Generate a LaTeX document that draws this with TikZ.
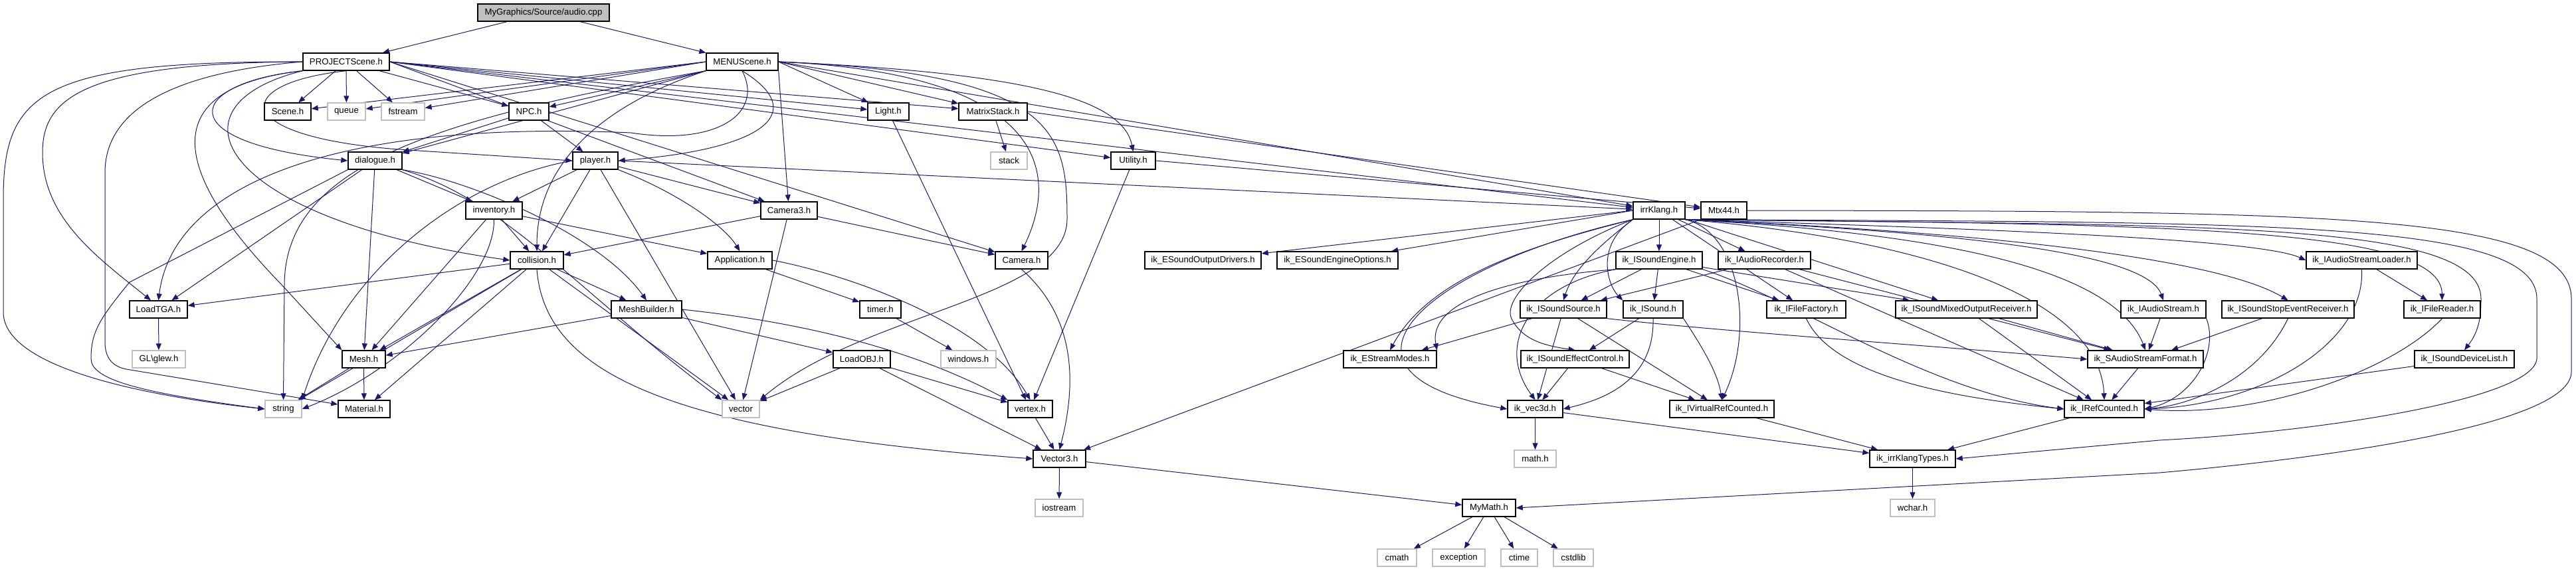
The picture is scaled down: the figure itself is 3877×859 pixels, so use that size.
\documentclass[tikz,border=0pt]{standalone}
\usepackage{fontspec}
\setmainfont{Liberation Sans}
\usetikzlibrary{arrows.meta}
\pgfdeclarelayer{bglayer}
\pgfsetlayers{bglayer,main}
\definecolor{edgec}{HTML}{191970}
\definecolor{grayb}{HTML}{BFBFBF}
\begin{document}
\begin{tikzpicture}[x=0.5pt,y=-0.5pt,
  hbox/.style={draw=black, line width=0.7pt, fill=white, rectangle, minimum height=13pt, inner sep=0pt, font=\fontsize{6.6}{7.5}\selectfont},
  gbox/.style={hbox, draw=grayb},
  rootbox/.style={hbox, fill=grayb},
  arr/.style={draw=edgec, line width=0.5pt, -{Triangle[length=5pt,width=4pt]}}]
\useasboundingbox (0,0) rectangle (3877,859);
% row 0-1
\node[rootbox, minimum width=99pt] (audio) at (818,19) {MyGraphics/Source/audio.cpp};
\node[hbox, minimum width=65pt] (P) at (521,93) {PROJECTScene.h};
\node[hbox, minimum width=54pt] (M) at (1117,93) {MENUScene.h};
% row 2
\node[hbox, minimum width=35pt] (scene) at (433,168) {Scene.h};
\node[gbox, minimum width=28.5pt] (queue) at (521.5,168) {queue};
\node[gbox, minimum width=32.5pt] (fstream) at (606.5,168) {fstream};
\node[hbox, minimum width=30pt] (npc) at (796,168) {NPC.h};
\node[hbox, minimum width=31pt] (light) at (1337,168) {Light.h};
\node[hbox, minimum width=51.5pt] (mstack) at (1494.5,168) {MatrixStack.h};
% row 3
\node[hbox, minimum width=40.5pt] (dialogue) at (564.5,242) {dialogue.h};
\node[hbox, minimum width=34pt] (player) at (896,242) {player.h};
\node[gbox, minimum width=27.5pt] (stack) at (1518.5,242) {stack};
\node[hbox, minimum width=33.5pt] (utility) at (1705.5,242) {Utility.h};
% row 4
\node[hbox, minimum width=42.5pt] (inventory) at (743.5,317) {inventory.h};
\node[hbox, minimum width=42.5pt] (camera3) at (1187.5,317) {Camera3.h};
\node[hbox, minimum width=39pt] (K) at (2497,317) {irrKlang.h};
\node[hbox, minimum width=34.5pt] (mtx) at (2594.5,317) {Mtx44.h};
% row 5
\node[hbox, minimum width=40pt] (collision) at (808,392) {collision.h};
\node[hbox, minimum width=48.5pt] (app) at (1113.5,392) {Application.h};
\node[hbox, minimum width=39.5pt] (camera) at (1537.5,392) {Camera.h};
\node[hbox, minimum width=87.5pt] (esod) at (1810.5,392) {ik\_ESoundOutputDrivers.h};
\node[hbox, minimum width=91pt] (eseo) at (2013,392) {ik\_ESoundEngineOptions.h};
\node[hbox, minimum width=65pt] (se) at (2497,392) {ik\_ISoundEngine.h};
\node[hbox, minimum width=69.5pt] (iar) at (2655.5,392) {ik\_IAudioRecorder.h};
\node[hbox, minimum width=83.5pt] (iasl) at (3554.5,392) {ik\_IAudioStreamLoader.h};
% row 6
\node[hbox, minimum width=43.5pt] (loadtga) at (238.5,466) {LoadTGA.h};
\node[hbox, minimum width=53pt] (mbuilder) at (973,466) {MeshBuilder.h};
\node[hbox, minimum width=31pt] (timer) at (1325,466) {timer.h};
\node[hbox, minimum width=65pt] (iss) at (2353,466) {ik\_ISoundSource.h};
\node[hbox, minimum width=45pt] (isound) at (2488,466) {ik\_ISound.h};
\node[hbox, minimum width=59.5pt] (iff) at (2718.5,466) {ik\_IFileFactory.h};
\node[hbox, minimum width=106.5pt] (ismor) at (2959.5,466) {ik\_ISoundMixedOutputReceiver.h};
\node[hbox, minimum width=64pt] (ias) at (3256,466) {ik\_IAudioStream.h};
\node[hbox, minimum width=99.5pt] (isser) at (3443.5,466) {ik\_ISoundStopEventReceiver.h};
\node[hbox, minimum width=57.5pt] (ifr) at (3675.5,466) {ik\_IFileReader.h};
% row 7
\node[gbox, minimum width=40pt] (glew) at (239,541) {GL\textbackslash glew.h};
\node[hbox, minimum width=32.5pt] (mesh) at (547.5,541) {Mesh.h};
\node[hbox, minimum width=43pt] (loadobj) at (1297,541) {LoadOBJ.h};
\node[gbox, minimum width=41.5pt] (windows) at (1457.5,541) {windows.h};
\node[hbox, minimum width=70pt] (esm) at (2092,541) {ik\_EStreamModes.h};
\node[hbox, minimum width=81.5pt] (isec) at (2370.5,541) {ik\_ISoundEffectControl.h};
\node[hbox, minimum width=87pt] (sasf) at (3229,541) {ik\_SAudioStreamFormat.h};
\node[hbox, minimum width=75pt] (isdl) at (3709,541) {ik\_ISoundDeviceList.h};
% row 8
\node[gbox, minimum width=27.5pt] (string) at (426.5,616) {string};
\node[hbox, minimum width=39pt] (material) at (548,616) {Material.h};
\node[gbox, minimum width=28pt] (vector) at (1115,616) {vector};
\node[hbox, minimum width=33.5pt] (vertex) at (1550.5,616) {vertex.h};
\node[hbox, minimum width=41.5pt] (vec3d) at (2310.5,616) {ik\_vec3d.h};
\node[hbox, minimum width=78.5pt] (ivrc) at (2591.5,616) {ik\_IVirtualRefCounted.h};
\node[hbox, minimum width=60pt] (irc) at (3167,616) {ik\_IRefCounted.h};
% row 9-11
\node[hbox, minimum width=39.5pt] (vector3) at (1594.5,691) {Vector3.h};
\node[gbox, minimum width=31.5pt] (math) at (2310.5,691) {math.h};
\node[hbox, minimum width=64.5pt] (ikt) at (2878.5,691) {ik\_irrKlangTypes.h};
\node[gbox, minimum width=36pt] (iostream) at (1594,765) {iostream};
\node[hbox, minimum width=40pt] (mymath) at (2241,765) {MyMath.h};
\node[gbox, minimum width=33.5pt] (wchar) at (2878.5,765) {wchar.h};
\node[gbox, minimum width=29.5pt] (cmath) at (2102.5,840) {cmath};
\node[gbox, minimum width=39.5pt] (exception) at (2195.5,840) {exception};
\node[gbox, minimum width=27.5pt] (ctime) at (2286.5,840) {ctime};
\node[gbox, minimum width=30pt] (cstdlib) at (2368,840) {cstdlib};

\begin{pgfonlayer}{bglayer}
\draw[arr] (audio) -- (P);
\draw[arr] (audio) -- (M);
% PROJECTScene
\draw[arr] (P) -- (scene);
\draw[arr] (P) -- (queue);
\draw[arr] (P) -- (fstream);
\draw[arr] (P) -- (npc);
\draw[arr] (P.east) -- (light);
\draw[arr] (P.east) -- (mstack);
\draw[arr] (P.east) -- (utility);
\draw[arr] (P.east) -- (K);
\draw[arr] (P.east) -- (camera3);
\draw[arr] (P.east) -- (camera);
\draw[arr] (P.south west) .. controls (280,125) and (250,215) .. (dialogue.west);
\draw[arr] (P.south) .. controls (350,125) and (340,205) .. (600,225) -- (player.west);
\draw[arr] (P.west) .. controls (120,95) and (64,150) .. (64,230) .. controls (64,330) and (150,390) .. (loadtga.130);
\draw[arr] (P.west) .. controls (60,92) and (5,140) .. (5,300) -- (5,470) .. controls (5,560) and (250,600) .. (string.west);
\draw[arr] (P.west) .. controls (250,110) and (158,170) .. (158,260) -- (158,515) .. controls (158,540) and (170,552) .. (190,556) -- (material.170);
\draw[arr] (P.south west) .. controls (250,130) and (240,240) .. (425,430) -- (mesh.north west);
\draw[arr] (P.south west) .. controls (240,160) and (330,330) .. (collision.west);
% MENUScene
\draw[arr] (M.west) -- (scene);
\draw[arr] (M.west) -- (queue);
\draw[arr] (M.west) -- (fstream);
\draw[arr] (M.south west) -- (npc);
\draw[arr] (M.south west) -- (dialogue);
\draw[arr] (M.east) -- (light);
\draw[arr] (M.east) -- (mstack);
\draw[arr] (M.east) .. controls (1550,110) and (1690,150) .. (utility.north);
\draw[arr] (M.east) -- (K);
\draw[arr] (M.south east) -- (camera3);
\draw[arr] (M.east) .. controls (1560,110) and (1600,250) .. (camera.north);
\draw[arr] (M.east) .. controls (1590,110) and (1606,200) .. (1606,330) .. controls (1606,450) and (1300,470) .. (vector.north east);
\draw[arr] (M.south) .. controls (1220,170) and (1150,225) .. (player.east);
\draw[arr] (M.south west) .. controls (900,160) and (808,250) .. (collision.north);
\draw[arr] (M.south) .. controls (1150,170) and (1080,220) .. (950,200) .. controls (500,180) and (260,280) .. (loadtga.north);
\draw[arr] (M.south west) .. controls (650,180) and (428,250) .. (428,430) -- (string.north);
% NPC, dialogue, player, inventory
\draw[arr] (npc) -- (dialogue);
\draw[arr] (npc) -- (player);
\draw[arr] (dialogue) -- (inventory);
\draw[arr] (dialogue) -- (loadtga);
\draw[arr] (dialogue) -- (mesh);
\draw[arr] (dialogue.south west) -- (195,425) .. controls (150,480) and (137,500) .. (137,540) .. controls (137,570) and (200,590) .. (string.west);
\draw[arr] (dialogue.south east) .. controls (700,270) and (900,350) .. (mbuilder.north);
\draw[arr] (dialogue.south east) .. controls (760,300) and (870,440) .. (vector.north west);
\draw[arr] (player) -- (inventory);
\draw[arr] (player) -- (collision);
\draw[arr] (player) -- (camera3);
\draw[arr] (player.south east) .. controls (1020,290) and (1090,340) .. (app.north);
\draw[arr] (player.east) -- (K);
\draw[arr] (player.west) .. controls (700,270) and (520,400) .. (string.north east);
\draw[arr] (player) -- (vector);
\draw[arr] (inventory) -- (collision);
\draw[arr] (inventory) -- (app);
\draw[arr] (inventory.south) .. controls (745,420) and (600,560) .. (string.east);
\draw[arr] (inventory) -- (mesh);
% Camera3, collision, etc.
\draw[arr] (camera3) -- (collision);
\draw[arr] (camera3) -- (camera);
\draw[arr] (camera3) -- (vector);
\draw[arr] (collision) -- (loadtga);
\draw[arr] (collision) -- (mesh);
\draw[arr] (collision) -- (mbuilder);
\draw[arr] (collision) -- (string);
\draw[arr] (collision) -- (material);
\draw[arr] (collision) -- (vector);
\draw[arr] (collision.south) .. controls (820,560) and (1000,650) .. (vector3.west);
\draw[arr] (app) -- (timer);
\draw[arr] (app.east) .. controls (1260,410) and (1480,480) .. (vertex.north);
\draw[arr] (timer) -- (windows);
\draw[arr] (mstack) -- (stack);
\draw[arr] (mstack.east) -- (mtx);
\draw[arr] (utility) -- (vertex);
\draw[arr] (utility.east) -- (mtx);
\draw[arr] (light) -- (vertex);
\draw[arr] (camera.south) .. controls (1610,470) and (1625,560) .. (vector3.north);
\draw[arr] (loadtga) -- (glew);
\draw[arr] (mbuilder) -- (mesh);
\draw[arr] (mbuilder) -- (loadobj);
\draw[arr] (mbuilder.east) .. controls (1250,490) and (1400,540) .. (vertex.north west);
\draw[arr] (loadobj) -- (vector);
\draw[arr] (loadobj) -- (vertex);
\draw[arr] (loadobj) -- (vector3);
\draw[arr] (mesh) -- (string);
\draw[arr] (mesh) -- (material);
\draw[arr] (vertex) -- (vector3);
\draw[arr] (vector3) -- (iostream);
\draw[arr] (vector3) -- (mymath);
\draw[arr] (mtx.south west) -- (vector3);
\draw[arr] (mtx.east) .. controls (3500,318) and (3870,320) .. (3870,450) -- (3870,560) .. controls (3870,640) and (3500,690) .. (3250,712) -- (mymath.east);
\draw[arr] (mymath) -- (cmath);
\draw[arr] (mymath) -- (exception);
\draw[arr] (mymath) -- (ctime);
\draw[arr] (mymath) -- (cstdlib);
% irrKlang
\draw[arr] (K.south east) .. controls (3400,335) and (3818,330) .. (3818,450) -- (3818,540) .. controls (3815,600) and (3500,650) .. (3250,663) -- (ikt.east);
\draw[arr] (K.south east) .. controls (3300,340) and (3734,330) .. (3734,450) .. controls (3734,480) and (3730,500) .. (isdl.north);
\draw[arr] (K.south east) .. controls (3300,337) and (3674,345) .. (ifr.north);
\draw[arr] (K.south east) .. controls (3000,345) and (3400,360) .. (iasl.west);
\draw[arr] (K.south east) .. controls (3000,350) and (3340,390) .. (isser.north);
\draw[arr] (K.south east) .. controls (2950,350) and (3230,380) .. (ias.north);
\draw[arr] (K.south east) .. controls (2900,350) and (3180,400) .. (sasf.north);
\draw[arr] (K.south east) .. controls (2900,360) and (3160,450) .. (irc.north);
\draw[arr] (K) -- (ismor);
\draw[arr] (K) -- (iff);
\draw[arr] (K) -- (iar);
\draw[arr] (K) -- (se);
\draw[arr] (K.west) -- (eseo);
\draw[arr] (K.west) -- (esod);
\draw[arr] (K.south west) .. controls (2300,370) and (2150,420) .. (esm.north);
\draw[arr] (K.south west) .. controls (2150,400) and (1960,560) .. (vec3d.west);
\draw[arr] (K.south west) .. controls (2420,360) and (2370,400) .. (iss.north);
\draw[arr] (K.south west) .. controls (2400,370) and (2420,430) .. (isound.north west);
\draw[arr] (K.south west) .. controls (2330,380) and (2260,450) .. (2275,480) .. controls (2290,510) and (2320,520) .. (isec.north);
\draw[arr] (K.south east) .. controls (2620,350) and (2640,500) .. (ivrc.north);
\draw[arr] (se) -- (iss);
\draw[arr] (se) -- (isound);
\draw[arr] (se.south west) .. controls (2250,420) and (2150,460) .. (esm.north east);
\draw[arr] (se.south west) .. controls (2300,430) and (2250,520) .. (vec3d.north);
\draw[arr] (se.south east) .. controls (2700,450) and (2900,590) .. (irc.west);
\draw[arr] (se) -- (iff);
\draw[arr] (se) -- (ismor);
\draw[arr] (iar) -- (iss);
\draw[arr] (iar) -- (sasf);
\draw[arr] (iar) -- (irc);
\draw[arr] (iss) -- (esm);
\draw[arr] (iss) -- (vec3d);
\draw[arr] (iss) -- (ivrc);
\draw[arr] (iss.south east) .. controls (2600,500) and (2900,520) .. (sasf.west);
\draw[arr] (isound) -- (isec);
\draw[arr] (isound.south) .. controls (2490,570) and (2420,600) .. (vec3d.east);
\draw[arr] (isound.south east) .. controls (2560,520) and (2585,560) .. (ivrc.north);
\draw[arr] (isec) -- (vec3d);
\draw[arr] (isec) -- (ivrc);
\draw[arr] (iff.south) .. controls (2760,570) and (2950,600) .. (irc.west);
\draw[arr] (ismor) -- (irc);
\draw[arr] (ismor) -- (sasf);
\draw[arr] (ias) -- (sasf);
\draw[arr] (ias.south east) .. controls (3340,530) and (3300,600) .. (irc.east);
\draw[arr] (isser) -- (sasf);
\draw[arr] (isser.south) .. controls (3400,570) and (3300,610) .. (irc.east);
\draw[arr] (ifr.south) .. controls (3600,560) and (3400,630) .. (irc.east);
\draw[arr] (isdl) -- (irc);
\draw[arr] (iasl) -- (ifr);
\draw[arr] (iasl.south) .. controls (3560,520) and (3400,610) .. (irc.east);
\draw[arr] (sasf) -- (irc);
\draw[arr] (vec3d) -- (math);
\draw[arr] (vec3d) -- (ikt);
\draw[arr] (ivrc) -- (ikt);
\draw[arr] (irc) -- (ikt);
\draw[arr] (ikt) -- (wchar);
\end{pgfonlayer}
\end{tikzpicture}
\end{document}
